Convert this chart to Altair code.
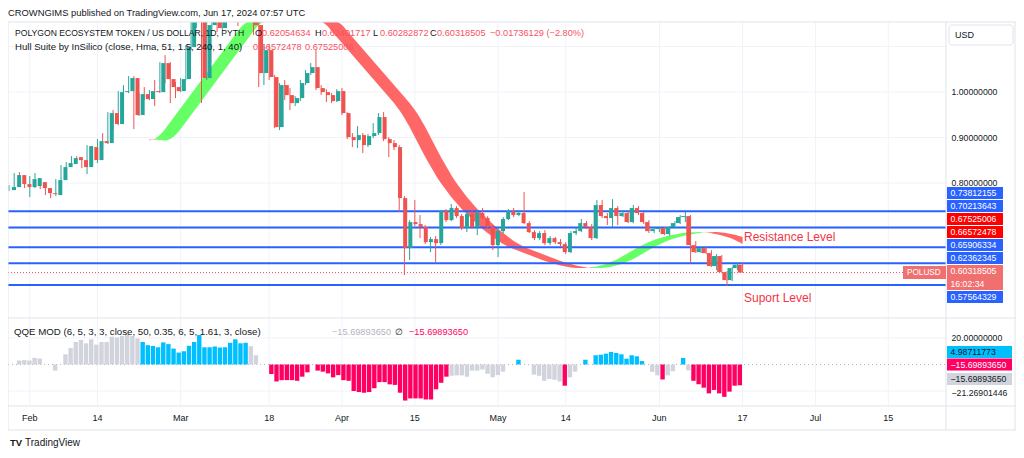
import altair as alt
import pandas as pd

FONT = "Liberation Sans"
W, H = 1008, 442          # whole drawing area (plot area, autosize none)
PANE_R = 938              # right edge of the chart panes (px inside plot)

DARK = "#131722"
GRID = "#F0F3FA"
BORDER = "#E0E3EB"
UP, DOWN = "#26A69A", "#EF5350"
BLUE = "#2962FF"
HULL_UP, HULL_DN = "#66FF66", "#FF6666"
Q_BLUE, Q_PINK, Q_GRAY = "#00BFFF", "#FF0062", "#D1D4DC"
RED_TXT = "#F7525F"

# ---------------- data (daily candles, Jan 28 .. Jun 17 2024) ----------------
open_ = [0.7844, 0.7910, 0.8174, 0.7976,
         0.7910, 0.7932, 0.8020, 0.7888, 0.7778, 0.7734, 0.8064, 0.8350, 0.8416, 0.8569, 0.8503, 0.8350, 0.8789, 0.8503, 0.8921, 0.8877, 0.9536, 0.9295, 0.9998, 1.0020, 1.0306, 0.9493, 0.9954, 0.9844, 1.0020, 0.9998, 1.0635, 1.0284, 1.0108,
         1.0020, 1.0284, 1.0987, 1.1536, 1.2020, 1.0306, 1.1471, 1.1800, 1.1405, 1.1690, 1.2240, 1.2679, 1.2350, 1.2899, 1.2240, 1.1471, 1.0416, 1.0921, 1.0328, 0.9229, 1.0152, 0.9932, 0.9756, 0.9866, 1.0196, 1.0416, 1.0547, 1.0086, 0.9998, 0.9932, 0.9800,
         1.0020, 0.9536, 0.9009, 0.8943, 0.9053, 0.8833, 0.9031, 0.9097, 0.9449, 0.8965, 0.8877, 0.8789, 0.7668, 0.6569, 0.7141, 0.7097, 0.7031, 0.6701, 0.6767, 0.6679, 0.7383, 0.7185, 0.7449, 0.7273, 0.7009, 0.7317, 0.7031, 0.7339, 0.7229, 0.7031,
         0.6635, 0.6943, 0.7207, 0.7383, 0.7295, 0.7339, 0.7119, 0.6921, 0.6789, 0.6899, 0.6679, 0.6789, 0.6701, 0.6657, 0.6481, 0.6899, 0.6943, 0.7119, 0.7031, 0.6789, 0.7515, 0.7273, 0.7229, 0.7449, 0.7273, 0.7339, 0.7141, 0.7449, 0.7339, 0.7141, 0.6943,
         0.6987, 0.7009, 0.6877, 0.7031, 0.7119, 0.7251, 0.7273, 0.6635, 0.6481, 0.6569, 0.6460, 0.6174, 0.6394, 0.6042, 0.5866, 0.6130, 0.62054634]
high = [0.7954, 0.8218, 0.8240, 0.8042,
        0.8152, 0.8218, 0.8064, 0.7910, 0.7800, 0.8086, 0.8394, 0.8460, 0.8591, 0.8591, 0.8525, 0.8833, 0.8811, 0.8965, 0.9097, 0.9558, 0.9602, 1.0020, 1.0152, 1.0350, 1.0350, 0.9976, 1.0108, 1.0042, 1.0262, 1.0657, 1.0811, 1.0657, 1.0218,
        1.0306, 1.1031, 1.1690, 1.2130, 1.2196, 1.1580, 1.1910, 1.2020, 1.1844, 1.2350, 1.2899, 1.3009, 1.3119, 1.3009, 1.2350, 1.1580, 1.1031, 1.1031, 1.0372, 1.0196, 1.0262, 1.0086, 0.9910, 1.0262, 1.0482, 1.0635, 1.0921, 1.0152, 1.0064, 0.9976, 1.0064,
        1.0086, 0.9558, 0.9097, 0.9251, 0.9097, 0.9075, 0.9317, 0.9536, 0.9558, 0.9009, 0.8943, 0.8833, 0.7712, 0.7185, 0.7624, 0.7295, 0.7075, 0.6811, 0.6833, 0.7405, 0.7427, 0.7537, 0.7493, 0.7317, 0.7361, 0.7405, 0.7383, 0.7449, 0.7273, 0.7075,
        0.7009, 0.7251, 0.7427, 0.7449, 0.7383, 0.7800, 0.7163, 0.6965, 0.6943, 0.6965, 0.6833, 0.6811, 0.6767, 0.6701, 0.6943, 0.7009, 0.7207, 0.7163, 0.7097, 0.7624, 0.7624, 0.7339, 0.7646, 0.7493, 0.7383, 0.7383, 0.7515, 0.7493, 0.7361, 0.7185, 0.7031,
        0.7031, 0.7031, 0.7053, 0.7163, 0.7295, 0.7361, 0.7295, 0.6723, 0.6591, 0.6591, 0.6525, 0.6438, 0.6416, 0.6064, 0.6152, 0.6262, 0.62401717]
low = [0.7822, 0.7888, 0.7954, 0.7888,
       0.7690, 0.7888, 0.7866, 0.7734, 0.7668, 0.7712, 0.8042, 0.8328, 0.8394, 0.8460, 0.8328, 0.8196, 0.8482, 0.8438, 0.8833, 0.8855, 0.9163, 0.9273, 0.9822, 0.9976, 0.9185, 0.9471, 0.9822, 0.9822, 0.9690, 0.9976, 1.0196, 0.9756, 0.9866,
       0.9998, 1.0262, 1.0921, 1.1405, 0.9756, 1.0262, 1.1361, 1.1317, 1.1361, 1.1580, 1.2130, 1.1449, 1.2240, 1.1800, 1.1251, 1.0108, 1.0152, 1.0262, 0.9207, 0.9163, 0.9822, 0.9602, 0.9690, 0.9800, 1.0152, 1.0372, 1.0042, 0.9932, 0.9778, 0.9756, 0.9778,
       0.9493, 0.8965, 0.8789, 0.8767, 0.8657, 0.8789, 0.8987, 0.9053, 0.8921, 0.8569, 0.8723, 0.7361, 0.5976, 0.6306, 0.7053, 0.6789, 0.6657, 0.6481, 0.6262, 0.6635, 0.7141, 0.7163, 0.7229, 0.6965, 0.6921, 0.6987, 0.6855, 0.7207, 0.6987, 0.6525,
       0.6372, 0.6899, 0.7185, 0.7251, 0.7273, 0.7097, 0.6899, 0.6745, 0.6745, 0.6635, 0.6635, 0.6657, 0.6591, 0.6438, 0.6460, 0.6855, 0.6921, 0.6987, 0.6745, 0.6767, 0.7229, 0.7075, 0.7031, 0.7075, 0.7251, 0.7119, 0.7119, 0.7295, 0.7097, 0.6899, 0.6899,
       0.6921, 0.6855, 0.6833, 0.7009, 0.7097, 0.7141, 0.6240, 0.6460, 0.6460, 0.6438, 0.6152, 0.6086, 0.6020, 0.5734, 0.5844, 0.6086, 0.60282872]
close = [0.7910, 0.8174, 0.7976, 0.7910,
         0.8086, 0.8108, 0.7888, 0.7778, 0.7756, 0.8064, 0.8350, 0.8438, 0.8547, 0.8503, 0.8350, 0.8811, 0.8503, 0.8921, 0.8877, 0.9536, 0.9295, 0.9998, 1.0020, 1.0306, 0.9493, 0.9954, 0.9844, 1.0020, 0.9998, 1.0635, 1.0284, 1.0108, 1.0020,
         1.0284, 1.0987, 1.1536, 1.2020, 1.0306, 1.1471, 1.1800, 1.1405, 1.1690, 1.2240, 1.2679, 1.2350, 1.2899, 1.2240, 1.1471, 1.0416, 1.0921, 1.0328, 0.9229, 1.0152, 0.9932, 0.9756, 0.9866, 1.0196, 1.0416, 1.0547, 1.0086, 0.9998, 0.9932, 0.9800, 1.0020,
         0.9536, 0.9009, 0.8943, 0.9053, 0.8833, 0.9031, 0.9097, 0.9449, 0.8965, 0.8877, 0.8789, 0.7668, 0.6569, 0.7141, 0.7097, 0.7031, 0.6701, 0.6767, 0.6679, 0.7383, 0.7185, 0.7449, 0.7273, 0.7009, 0.7317, 0.7031, 0.7339, 0.7229, 0.7031, 0.6635,
         0.6943, 0.7207, 0.7383, 0.7295, 0.7339, 0.7119, 0.6921, 0.6789, 0.6899, 0.6679, 0.6789, 0.6701, 0.6657, 0.6481, 0.6899, 0.6943, 0.7119, 0.7031, 0.6789, 0.7515, 0.7273, 0.7229, 0.7449, 0.7273, 0.7339, 0.7141, 0.7449, 0.7339, 0.7141, 0.6943, 0.6987,
         0.7009, 0.6877, 0.7031, 0.7119, 0.7251, 0.7273, 0.6635, 0.6481, 0.6569, 0.6460, 0.6174, 0.6394, 0.6042, 0.5866, 0.6130, 0.6205, 0.60318505]

# Hull moving average (Feb 21 .. Jun 17)
hull_start = "2024-02-21"
hull = [0.8954, 0.8948, 0.8943, 0.8932, 0.8965, 0.9053, 0.9185, 0.9339, 0.9493, 0.9646, 0.9800, 0.9954, 1.0108, 1.0262, 1.0416, 1.0569, 1.0723, 1.0877, 1.1031, 1.1185, 1.1339, 1.1471, 1.1602, 1.1734, 1.1844, 1.1954, 1.2042, 1.2108, 1.2152, 1.2174,
        1.2163, 1.2130, 1.2064, 1.1976, 1.1866, 1.1734, 1.1602, 1.1471, 1.1339, 1.1207, 1.1075, 1.0943, 1.0811, 1.0679, 1.0547, 1.0416, 1.0284, 1.0152, 1.0020, 0.9888, 0.9756, 0.9602, 0.9427, 0.9229, 0.9009, 0.8789, 0.8569, 0.8372, 0.8174, 0.7998,
        0.7844, 0.7690, 0.7558, 0.7427, 0.7317, 0.7207, 0.7097, 0.6987, 0.6899, 0.6811, 0.6723, 0.6657, 0.6591, 0.6547, 0.6503, 0.6460, 0.6416, 0.6372, 0.6328, 0.6284, 0.6251, 0.6218, 0.6185, 0.6163, 0.6145, 0.6134, 0.6130, 0.6134, 0.6147, 0.6167,
        0.6196, 0.6233, 0.6279, 0.6332, 0.6394, 0.6460, 0.6525, 0.6591, 0.6646, 0.6701, 0.6745, 0.6783, 0.6816, 0.6844, 0.6868, 0.6888, 0.6904, 0.6915, 0.6919, 0.6921, 0.6912, 0.6895, 0.6871, 0.6845, 0.6815, 0.6775, 0.6718, 0.6657]

# QQE MOD histogram (Jan 28 .. Jun 17)
qqe = [0, 3, 3.3, 3, 5, 4.5, 0, 0, -4.6, 0, 7.7, 12.5, 17, 18.5, 16, 19, 15, 17, 17, 21, 20.3, 21.5, 23, 21.5, 19.7,
       17, 14.6, 14, 13, 16.7, 15.4, 12, 9, 10, 14.1, 17, 22.3, 13, 13, 13.6, 12.8, 13, 16.4, 19, 16, 16.4,
       13.8, 7, 0, 0,
       -7.2, -12.8, -11.8, -11.8, -11.8, -12.3, -9.2, -5.9,
       0,
       -4.6, -5.4, -6.7, -9.7, -8, -11.8, -12.3, -20, -20.8, -21.3, -20.8, -17.9, -13.3, -13.3, -15, -15.4, -21.3, -27.2, -25.6, -25.6, -25.6, -26.4, -26.4, -18.7, -13.8, -9.2,
       -8.5, -8.2, -8.2, -9.2, -4.6, -4.6, -3.8, -7, -9.7, -8, -5.4, 0, 0,
       3.6,
       0, 0, -7.7, -8.5, -12.3, -11, -11.5, -12.8,
       -16,
       -9.7, -5.4, 0,
       3.6, 0, 7, 7.4, 8.2, 9.5, 8.7, 7.7, 4.4, 7, 6.2, 2.6,
       0, -5.6, -8.2,
       -11.3,
       -8.2, -5.1, 0,
       4.9,
       -4.4,
       -12.3, -14.9, -17.5, -21.8, -19.2, -21.8, -24.4, -20.5, -16, -15.7]
qqe_runs = [("g", 25), ("b", 21), ("g", 4), ("p", 8), ("g", 1), ("p", 26), ("g", 13), ("b", 1), ("g", 8), ("p", 1),
            ("g", 3), ("b", 12), ("g", 3), ("p", 1), ("g", 3), ("b", 1), ("g", 1), ("p", 10)]

levels = [0.73812155, 0.70213643, 0.65906334, 0.62362345, 0.57564329]
last_price = 0.60318505
price_grid = [0.6, 0.7, 0.8, 0.9, 1.0, 1.1]
price_labels = [1.0, 0.9, 0.8]
qqe_grid = [20, -20]
qqe_labels = [20.0, -21.26901446]

tick_dates = ["2024-02-01", "2024-02-14", "2024-03-01", "2024-03-18", "2024-04-01", "2024-04-15",
              "2024-05-01", "2024-05-14", "2024-06-01", "2024-06-17", "2024-07-01", "2024-07-15"]
tick_labels = ["Feb", "14", "Mar", "18", "Apr", "15", "May", "14", "Jun", "17", "Jul", "15"]

# ---------------- tables ----------------
base = pd.Timestamp("2024-02-01")
dates = pd.date_range("2024-01-28", periods=len(close), freq="D")
tday = [(d - base).days for d in dates]
candles = pd.DataFrame({"t": tday, "o": open_, "h": high, "l": low, "c": close})
candles["dir"] = ["up" if c >= o else "down" for o, c in zip(open_, close)]

h0 = (pd.Timestamp(hull_start) - base).days
rows = []
for i in range(3, len(hull)):
    trend = "up" if hull[i] > hull[i - 2] else "down"
    rows.append((h0 + i, hull[i], hull[i - 3], trend))
hrec, seg = [], 0
for k, r in enumerate(rows):
    if k > 0 and r[3] != rows[k - 1][3]:
        hrec.append(dict(t=r[0], a=r[1], b=r[2], trend=rows[k - 1][3], seg=seg))
        seg += 1
    hrec.append(dict(t=r[0], a=r[1], b=r[2], trend=r[3], seg=seg))
hull_df = pd.DataFrame(hrec)

qcls = []
for c, n in qqe_runs:
    qcls += [c] * n
qdf = pd.DataFrame({"t": tday, "v": qqe, "z": 0.0, "cls": qcls[:len(qqe)]})

ticks = pd.DataFrame({"t": [(pd.Timestamp(d) - base).days for d in tick_dates], "lab": tick_labels})

# ---------------- scales ----------------
xS = alt.Scale(domain=[-4.19, 176.09], range=[0, PANE_R], nice=False, zero=False)
yP = alt.Scale(domain=[0.5, 525 / 455], range=[311.5, 14], clamp=True, nice=False, zero=False)
yQ = alt.Scale(domain=[-30, 30], range=[396.25, 316.75], clamp=True, nice=False, zero=False)

X = alt.X("t:Q", scale=xS, axis=None)

layers = []

# grid
layers.append(alt.Chart(ticks).mark_rule(color=GRID, strokeWidth=1).encode(
    x=X, y=alt.value(14), y2=alt.value(398)))
layers.append(alt.Chart(pd.DataFrame({"p": price_grid})).mark_rule(color=GRID, strokeWidth=1).encode(
    y=alt.Y("p:Q", scale=yP, axis=None), x=alt.value(0), x2=alt.value(PANE_R)))
layers.append(alt.Chart(pd.DataFrame({"q": qqe_grid})).mark_rule(color=GRID, strokeWidth=1).encode(
    y=alt.Y("q:Q", scale=yQ, axis=None), x=alt.value(0), x2=alt.value(PANE_R)))

# hull band
layers.append(alt.Chart(hull_df).mark_area(interpolate="monotone").encode(
    x=X,
    y=alt.Y("a:Q", scale=yP, axis=None, stack=None),
    y2="b:Q",
    color=alt.Color("trend:N", scale=alt.Scale(domain=["up", "down"], range=[HULL_UP, HULL_DN]), legend=None),
    detail="seg:N"))

# horizontal levels
layers.append(alt.Chart(pd.DataFrame({"p": levels})).mark_rule(color=BLUE, strokeWidth=2).encode(
    y=alt.Y("p:Q", scale=yP, axis=None), x=alt.value(0), x2=alt.value(PANE_R)))
layers.append(alt.Chart(pd.DataFrame({"p": [last_price]})).mark_rule(color=DOWN, strokeWidth=1, strokeDash=[1, 2]).encode(
    y=alt.Y("p:Q", scale=yP, axis=None), x=alt.value(0), x2=alt.value(PANE_R)))

# candles
ccol = alt.Color("dir:N", scale=alt.Scale(domain=["up", "down"], range=[UP, DOWN]), legend=None)
layers.append(alt.Chart(candles).mark_rule(strokeWidth=1).encode(
    x=X, y=alt.Y("l:Q", scale=yP, axis=None), y2="h:Q", color=ccol))
layers.append(alt.Chart(candles).mark_bar(width=4).encode(
    x=X, y=alt.Y("o:Q", scale=yP, axis=None), y2="c:Q", color=ccol))

# QQE
layers.append(alt.Chart(pd.DataFrame({"q": [0]})).mark_rule(color="#B2B5BE", strokeWidth=1, strokeDash=[1, 3]).encode(
    y=alt.Y("q:Q", scale=yQ, axis=None), x=alt.value(0), x2=alt.value(PANE_R)))
layers.append(alt.Chart(qdf).mark_bar(width=4.4).encode(
    x=X, y=alt.Y("v:Q", scale=yQ, axis=None), y2="z:Q",
    color=alt.Color("cls:N", scale=alt.Scale(domain=["g", "b", "p"], range=[Q_GRAY, Q_BLUE, Q_PINK]), legend=None)))

# frame / separators
lines = pd.DataFrame([
    dict(x=0, x2=W, y=14, y2=14), dict(x=0, x2=W, y=422, y2=422),
    dict(x=0, x2=0, y=14, y2=422), dict(x=W - 1, x2=W - 1, y=14, y2=422),
    dict(x=0, x2=W, y=310, y2=310), dict(x=0, x2=W, y=398, y2=398),
    dict(x=PANE_R, x2=PANE_R, y=14, y2=422),
])
layers.append(alt.Chart(lines).mark_rule(color=BORDER, strokeWidth=1).encode(
    x=alt.X("x:Q", scale=None, axis=None), x2="x2:Q",
    y=alt.Y("y:Q", scale=None, axis=None), y2="y2:Q"))

# right-side tags
tags = pd.DataFrame([
    dict(x=939, x2=995, y=179, y2=191, f=BLUE), dict(x=939, x2=995, y=192, y2=204, f=BLUE),
    dict(x=939, x2=995, y=205, y2=217, f="#FF0000"), dict(x=939, x2=995, y=218, y2=230, f="#FF0000"),
    dict(x=939, x2=995, y=231, y2=243, f=BLUE), dict(x=939, x2=995, y=244, y2=256, f=BLUE),
    dict(x=939, x2=995, y=257, y2=282, f="#F07070"), dict(x=939, x2=995, y=283, y2=295, f=BLUE),
    dict(x=895, x2=938, y=258, y2=271, f="#F07070"),
    dict(x=939, x2=1004, y=338, y2=350, f=Q_BLUE), dict(x=939, x2=1004, y=350.5, y2=362.5, f=Q_PINK),
    dict(x=939, x2=1004, y=365, y2=377, f=Q_GRAY),
])
layers.append(alt.Chart(tags).mark_rect().encode(
    x=alt.X("x:Q", scale=None, axis=None), x2="x2:Q",
    y=alt.Y("y:Q", scale=None, axis=None), y2="y2:Q",
    color=alt.Color("f:N", scale=None)))
layers.append(alt.Chart(pd.DataFrame([dict(x=941, x2=1005, y=17, y2=37)])).mark_rect(
    fill="white", stroke=BORDER, strokeWidth=1, cornerRadius=3).encode(
    x=alt.X("x:Q", scale=None, axis=None), x2="x2:Q",
    y=alt.Y("y:Q", scale=None, axis=None), y2="y2:Q"))


def ptext(recs, align="left", weight="normal", font=FONT, baseline="middle"):
    df = pd.DataFrame(recs, columns=["px", "py", "txt", "col", "fs"])
    return alt.Chart(df).mark_text(font=font, align=align, baseline=baseline, fontWeight=weight).encode(
        x=alt.X("px:Q", scale=None, axis=None),
        y=alt.Y("py:Q", scale=None, axis=None),
        text=alt.Text("txt:N"),
        color=alt.Color("col:N", scale=None),
        size=alt.Size("fs:Q", scale=None))


GRAY_TXT = "#B2B5BE"
texts = [
    (0, 5.2, "CROWNGIMS published on TradingView.com, Jun 17, 2024 07:57 UTC", DARK, 9.4),
    (7, 25.3, "POLYGON ECOSYSTEM TOKEN / US DOLLAR, 1D, PYTH", DARK, 8.6),
    (247, 25.3, "O", DARK, 9.2), (254, 25.3, "0.62054634", RED_TXT, 9.2),
    (307, 25.3, "H", DARK, 9.2), (314, 25.3, "0.62401717", RED_TXT, 9.2),
    (365, 25.3, "L", DARK, 9.2), (372, 25.3, "0.60282872", RED_TXT, 9.2),
    (422, 25.3, "C", DARK, 9.2), (429, 25.3, "0.60318505", RED_TXT, 9.2),
    (482, 25.3, "\u22120.01736129 (\u22122.80%)", RED_TXT, 9.2),
    (7, 38.7, "Hull Suite by InSilico (close, Hma, 51, 1.5, 240, 1, 40)", DARK, 9.6),
    (245, 38.7, "0.66572478", RED_TXT, 9.2), (297, 38.7, "0.67525006", RED_TXT, 9.2),
    (6, 324.3, "QQE MOD (6, 5, 3, 3, close, 50, 0.35, 6, 5, 1.61, 3, close)", DARK, 9.7),
    (324, 324.3, "\u221215.69893650", GRAY_TXT, 9.2), (387, 324.3, "\u2205", DARK, 9.2),
    (401, 324.3, "\u221215.69893650", Q_PINK, 9.2),
    (736, 229, "Resistance Level", "#F23645", 12),
    (736, 290, "Suport Level", "#F23645", 12),
    (947, 27, "USD", DARK, 9),
    (942.5, 185, "0.73812155", "white", 8.7), (942.5, 198, "0.70213643", "white", 8.7),
    (942.5, 211, "0.67525006", "white", 8.7), (942.5, 224, "0.66572478", "white", 8.7),
    (942.5, 237, "0.65906334", "white", 8.7), (942.5, 250, "0.62362345", "white", 8.7),
    (942.5, 263, "0.60318505", "white", 8.7), (942.5, 276, "16:02:34", "white", 8.7),
    (942.5, 289, "0.57564329", "white", 8.7),
    (899, 264.5, "POLUSD", "white", 8.2),
    (942.5, 344, "4.98711773", DARK, 8.7), (942.5, 356.5, "\u221215.69893650", "white", 8.7),
    (942.5, 371, "\u221215.69893650", DARK, 8.7),
    (17, 435, "TradingView", DARK, 10),
]
layers.append(ptext(texts))
layers.append(ptext([(2, 435, "TV", DARK, 9.5)], weight="bold"))

# axis value labels placed through the scales
layers.append(alt.Chart(pd.DataFrame({"p": price_labels, "s": ["1.00000000", "0.90000000", "0.80000000"]})).mark_text(
    font=FONT, align="left", baseline="middle", fontSize=8.7, color=DARK).encode(
    y=alt.Y("p:Q", scale=yP, axis=None), x=alt.value(943.5), text="s:N"))
layers.append(alt.Chart(pd.DataFrame({"q": qqe_labels, "s": ["20.00000000", "\u221221.26901446"]})).mark_text(
    font=FONT, align="left", baseline="middle", fontSize=8.7, color=DARK).encode(
    y=alt.Y("q:Q", scale=yQ, axis=None), x=alt.value(943.5), text="s:N"))
layers.append(alt.Chart(ticks).mark_text(font=FONT, align="center", baseline="middle", fontSize=9, color=DARK).encode(
    x=X, y=alt.value(410), text="lab:N"))

chart = alt.layer(*layers).resolve_scale(
    x="independent", y="independent", color="independent", size="independent"
).properties(
    width=W, height=H, padding=0, background="white",
    autosize=alt.AutoSizeParams(type="none"),
).configure_view(stroke=None)

chart.save("out.html", embed_options={"renderer": "svg", "actions": False})
